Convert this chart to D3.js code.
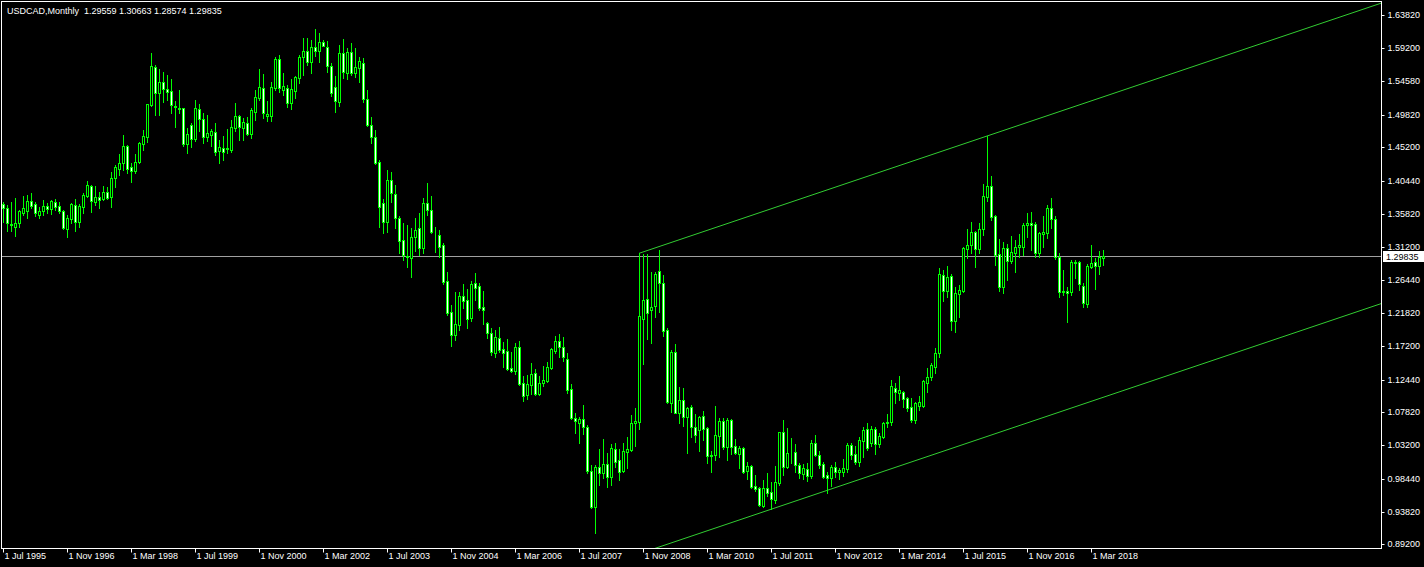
<!DOCTYPE html>
<html>
<head>
<meta charset="utf-8">
<script src="https://cdn.jsdelivr.net/npm/d3@7"></script>
<style>
  html, body { margin: 0; padding: 0; background: #000; }
  svg { display: block; }
  text { font-family: "Liberation Sans", Arial, sans-serif; }
</style>
</head>
<body>
<svg id="chart"></svg>
<script>
// USDCAD monthly bars, first bar = Jul 1995
const symbolTitle = "USDCAD,Monthly";
const lastBar = ["1.29559", "1.30663", "1.28574", "1.29835"];

const opens = [
1.3722,1.3661,1.3439,1.3393,1.3449,1.3599,1.3627,1.3760,1.3717,1.3571,
1.3619,1.3693,1.3647,1.3746,1.3693,1.3619,1.3373,1.3514,1.3703,1.3472,
1.3684,1.3839,1.3980,1.3754,1.3820,1.3792,1.3887,1.3816,1.4084,1.4220,
1.4296,1.4536,1.4244,1.4183,1.4310,1.4569,1.4671,1.5123,1.5651,1.5292,
1.5439,1.5340,1.5312,1.5104,1.5080,1.5072,1.4564,1.4832,1.4634,1.5058,
1.4917,1.4671,1.4699,1.4733,1.4474,1.4512,1.4494,1.4488,1.4798,1.4963,
1.4798,1.4860,1.4709,1.5020,1.5218,1.5355,1.4967,1.4963,1.5355,1.5764,
1.5331,1.5363,1.5142,1.5321,1.5496,1.5792,1.5885,1.5730,1.5933,1.5885,
1.6008,1.5933,1.5674,1.5369,1.5165,1.5848,1.5575,1.5871,1.5575,1.5637,
1.5707,1.5199,1.4832,1.4671,1.4310,1.3731,1.3472,1.4060,1.3863,1.3520,
1.3214,1.2992,1.2955,1.3251,1.3379,1.3097,1.3731,1.3637,1.3331,1.3284,
1.3143,1.2636,1.2199,1.1878,1.2019,1.2424,1.2368,1.2114,1.2604,1.2566,
1.2269,1.2039,1.1898,1.1624,1.1828,1.1672,1.1644,1.1408,1.1370,1.1700,
1.1192,1.1027,1.1168,1.1333,1.1041,1.1192,1.1229,1.1408,1.1652,1.1789,
1.1709,1.1531,1.1108,1.0699,1.0637,1.0685,1.0572,0.9959,0.9451,1.0007,
0.9931,1.0049,0.9866,1.0261,1.0110,0.9959,1.0227,1.0251,1.0628,1.0646,
1.2104,1.2378,1.2227,1.2283,1.2773,1.2603,1.1945,1.0919,1.1634,1.0778,
1.0957,1.0713,1.0854,1.0580,1.0533,1.0731,1.0557,1.0180,1.0180,1.0449,
1.0665,1.0298,1.0675,1.0307,1.0195,1.0275,0.9959,1.0025,0.9743,0.9711,
0.9461,0.9711,0.9659,0.9546,0.9790,1.0505,1.0015,1.0204,1.0218,1.0039,
0.9912,0.9979,0.9889,1.0345,1.0180,1.0053,0.9899,0.9852,1.0007,0.9945,
0.9945,0.9979,1.0322,1.0195,1.0086,1.0382,1.0543,1.0345,1.0543,1.0336,
1.0439,1.0637,1.0646,1.1122,1.1060,1.1065,1.0981,1.0854,1.0675,1.0876,
1.0876,1.1201,1.1285,1.1427,1.1616,1.2721,1.2499,1.2707,1.2076,1.2448,
1.2499,1.3091,1.3143,1.3331,1.3083,1.3365,1.3816,1.3976,1.3552,1.3016,
1.2556,1.3097,1.2922,1.3035,1.3111,1.3119,1.3425,1.3449,1.3439,1.3035,
1.3298,1.3308,1.3661,1.3506,1.2970,1.2485,1.2495,1.2485,1.2904,1.2904,
1.2566,1.2312,1.2837,1.2899,1.2851,1.29559];

const highs = [
1.3754,1.3707,1.3746,1.3802,1.3637,1.3835,1.3849,1.3873,1.3746,1.3684,
1.3778,1.3731,1.3778,1.3788,1.3754,1.3637,1.3566,1.3740,1.3788,1.3717,
1.3873,1.4050,1.3994,1.3976,1.3891,1.3976,1.3957,1.4177,1.4272,1.4427,
1.4696,1.4550,1.4301,1.4428,1.4601,1.4766,1.5133,1.5848,1.5683,1.5623,
1.5580,1.5542,1.5486,1.5175,1.5331,1.5080,1.4790,1.4860,1.5189,1.5133,
1.5001,1.4977,1.4776,1.4860,1.4625,1.4681,1.4776,1.4907,1.5142,1.4977,
1.4931,1.4945,1.5072,1.5331,1.5623,1.5556,1.5175,1.5443,1.5800,1.5824,
1.5566,1.5401,1.5482,1.5528,1.5824,1.6060,1.6060,1.6036,1.6187,1.6131,
1.6036,1.6026,1.5716,1.5528,1.5966,1.6046,1.5919,1.5990,1.5919,1.5792,
1.5778,1.5331,1.4945,1.4766,1.4343,1.3788,1.4202,1.4169,1.3990,1.3552,
1.3449,1.3425,1.3379,1.3520,1.3599,1.3810,1.4022,1.3834,1.3401,1.3355,
1.3176,1.2763,1.2297,1.2485,1.2485,1.2594,1.2519,1.2640,1.2753,1.2612,
1.2499,1.2062,1.1969,1.1945,1.1991,1.1780,1.1813,1.1638,1.1765,1.1793,
1.1295,1.1309,1.1474,1.1389,1.1295,1.1436,1.1497,1.1686,1.1860,1.1888,
1.1841,1.1615,1.1182,1.0769,1.0722,1.0886,1.0604,1.0039,1.0039,1.0261,
1.0402,1.0213,1.0336,1.0345,1.0261,1.0345,1.0439,1.0745,1.0840,1.3026,
1.3016,1.3016,1.2763,1.2763,1.3073,1.2721,1.1969,1.1662,1.1747,1.1136,
1.1122,1.0862,1.0886,1.0759,1.0731,1.0806,1.0580,1.0241,1.0872,1.0699,
1.0699,1.0699,1.0685,1.0402,1.0307,1.0298,1.0086,1.0039,0.9903,0.9734,
0.9833,0.9932,0.9800,1.0025,1.0509,1.0675,1.0557,1.0420,1.0336,1.0072,
1.0053,1.0072,1.0392,1.0462,1.0241,1.0086,0.9945,1.0039,1.0086,0.9993,
1.0120,1.0345,1.0354,1.0307,1.0430,1.0580,1.0637,1.0590,1.0580,1.0495,
1.0651,1.0759,1.1239,1.1201,1.1295,1.1088,1.1004,1.0981,1.0933,1.1013,
1.1239,1.1404,1.1483,1.1686,1.2815,1.2791,1.2847,1.2735,1.2556,1.2580,
1.3119,1.3365,1.3468,1.3345,1.3449,1.4004,1.4681,1.4117,1.3566,1.3223,
1.3190,1.3157,1.3270,1.3214,1.3299,1.3449,1.3599,1.3613,1.3472,1.3331,
1.3552,1.3707,1.3802,1.3552,1.3026,1.2791,1.2556,1.2932,1.2932,1.2922,
1.2612,1.2876,1.3143,1.2956,1.3063,1.30663];

const lows = [
1.3472,1.3345,1.3345,1.3274,1.3401,1.3566,1.3520,1.3661,1.3556,1.3528,
1.3571,1.3590,1.3576,1.3637,1.3590,1.3369,1.3260,1.3458,1.3345,1.3401,
1.3590,1.3825,1.3613,1.3707,1.3661,1.3778,1.3788,1.3684,1.3966,1.4131,
1.4202,1.4164,1.4037,1.4155,1.4296,1.4484,1.4601,1.5109,1.4977,1.4977,
1.5161,1.5189,1.5010,1.4812,1.5010,1.4540,1.4446,1.4530,1.4615,1.4756,
1.4587,1.4615,1.4540,1.4413,1.4305,1.4343,1.4437,1.4460,1.4756,1.4625,
1.4625,1.4695,1.4649,1.4907,1.5189,1.4931,1.4893,1.4893,1.5331,1.5307,
1.5260,1.5086,1.5062,1.5213,1.5434,1.5542,1.5683,1.5575,1.5810,1.5730,
1.5951,1.5589,1.5246,1.5024,1.5104,1.5496,1.5482,1.5542,1.5510,1.5448,
1.5165,1.4822,1.4587,1.4286,1.3401,1.3308,1.3330,1.3754,1.3379,1.3026,
1.2932,1.2837,1.2687,1.3063,1.3002,1.3035,1.3566,1.3317,1.3049,1.2970,
1.2594,1.2156,1.1719,1.1804,1.1945,1.2251,1.1977,1.2076,1.2368,1.2227,
1.2029,1.1828,1.1592,1.1568,1.1638,1.1418,1.1380,1.1351,1.1323,1.1168,
1.0947,1.0975,1.1041,1.1030,1.1027,1.1154,1.1215,1.1390,1.1615,1.1568,
1.1511,1.1060,1.0685,1.0487,1.0346,1.0477,0.9931,0.9429,0.9080,0.9758,
0.9852,0.9725,0.9758,1.0015,0.9828,0.9945,1.0001,1.0241,1.0307,1.0547,
1.1464,1.1813,1.1765,1.2124,1.2203,1.1860,1.0910,1.0792,1.0769,1.0637,
1.0590,1.0213,1.0434,1.0364,1.0241,1.0392,1.0072,0.9945,1.0110,1.0156,
1.0261,1.0110,1.0195,1.0195,1.0001,0.9931,0.9838,0.9711,0.9677,0.9461,
0.9451,0.9602,0.9415,0.9508,0.9758,0.9899,1.0001,1.0063,0.9945,0.9852,
0.9838,0.9818,0.9852,1.0166,0.9993,0.9852,0.9649,0.9743,0.9875,0.9838,
0.9885,0.9945,1.0120,1.0053,1.0025,1.0148,1.0251,1.0307,1.0195,1.0298,
1.0415,1.0572,1.0604,1.0919,1.0957,1.0862,1.0806,1.0651,1.0637,1.0816,
1.0854,1.1074,1.1239,1.1333,1.1563,1.2358,1.2415,1.1945,1.1921,1.2132,
1.2485,1.2956,1.3026,1.2837,1.3035,1.3284,1.3768,1.3496,1.2861,1.2499,
1.2471,1.2650,1.2894,1.2767,1.2970,1.3002,1.3261,1.3073,1.2978,1.2978,
1.3111,1.3238,1.3379,1.2942,1.2415,1.2438,1.2062,1.2438,1.2673,1.2509,
1.2265,1.2265,1.2815,1.2518,1.2734,1.28574];

const closes = [
1.3669,1.3449,1.3421,1.3454,1.3619,1.3661,1.3760,1.3698,1.3599,1.3619,
1.3689,1.3647,1.3764,1.3684,1.3627,1.3387,1.3520,1.3722,1.3472,1.3693,
1.3849,1.3985,1.3768,1.3816,1.3782,1.3887,1.3810,1.4084,1.4244,1.4296,
1.4540,1.4212,1.4192,1.4310,1.4583,1.4677,1.5128,1.5669,1.5292,1.5439,
1.5340,1.5307,1.5114,1.5090,1.5066,1.4572,1.4713,1.4634,1.5072,1.4917,
1.4671,1.4719,1.4752,1.4460,1.4522,1.4460,1.4512,1.4808,1.4959,1.4812,
1.4874,1.4709,1.5048,1.5228,1.5369,1.5001,1.4991,1.5369,1.5764,1.5355,
1.5387,1.5151,1.5345,1.5510,1.5792,1.5881,1.5730,1.5933,1.5885,1.6004,
1.5956,1.5674,1.5284,1.5179,1.5848,1.5589,1.5871,1.5575,1.5651,1.5744,
1.5199,1.4832,1.4671,1.4305,1.3675,1.3463,1.4060,1.3873,1.3520,1.3204,
1.3002,1.2970,1.3251,1.3355,1.3097,1.3731,1.3637,1.3331,1.3322,1.3119,
1.2626,1.2189,1.1878,1.2029,1.2424,1.2358,1.2104,1.2594,1.2542,1.2255,
1.2227,1.1898,1.1634,1.1842,1.1662,1.1624,1.1390,1.1370,1.1700,1.1182,
1.1017,1.1182,1.1323,1.1041,1.1192,1.1239,1.1418,1.1672,1.1789,1.1700,
1.1559,1.1098,1.0699,1.0665,1.0685,1.0572,0.9959,0.9443,1.0015,0.9922,
1.0049,0.9866,1.0275,1.0086,0.9945,1.0237,1.0265,1.0628,1.0656,1.2142,
1.2368,1.2180,1.2265,1.2735,1.2612,1.1935,1.0933,1.1634,1.0778,1.0957,
1.0713,1.0840,1.0580,1.0467,1.0713,1.0543,1.0166,1.0166,1.0462,1.0665,
1.0298,1.0675,1.0298,1.0213,1.0275,0.9945,1.0025,0.9734,0.9705,0.9475,
0.9711,0.9640,0.9560,0.9800,1.0505,1.0015,1.0204,1.0213,1.0039,0.9922,
0.9993,0.9889,1.0345,1.0180,1.0039,0.9874,0.9852,1.0007,0.9945,0.9969,
0.9993,1.0322,1.0180,1.0086,1.0392,1.0533,1.0283,1.0543,1.0336,1.0449,
1.0637,1.0642,1.1154,1.1074,1.1098,1.0971,1.0844,1.0675,1.0910,1.0924,
1.1225,1.1285,1.1450,1.1616,1.2734,1.2499,1.2697,1.2076,1.2462,1.2509,
1.3105,1.3143,1.3323,1.3083,1.3365,1.3834,1.3976,1.3542,1.3002,1.2556,
1.3097,1.2922,1.3049,1.3111,1.3143,1.3425,1.3447,1.3425,1.3035,1.3308,
1.3322,1.3661,1.3506,1.2970,1.2485,1.2495,1.2471,1.2904,1.2894,1.2594,
1.2321,1.2847,1.2894,1.2851,1.2978,1.29835];

// bottom time labels, one every 16 bars starting at bar 0
const timeLabels = ["1 Jul 1995","1 Nov 1996","1 Mar 1998","1 Jul 1999","1 Nov 2000",
  "1 Mar 2002","1 Jul 2003","1 Nov 2004","1 Mar 2006","1 Jul 2007","1 Nov 2008",
  "1 Mar 2010","1 Jul 2011","1 Nov 2012","1 Mar 2014","1 Jul 2015","1 Nov 2016","1 Mar 2018"];

const priceTicks = [1.63820,1.59200,1.54580,1.49820,1.45200,1.40440,1.35820,1.31200,
  1.26440,1.21820,1.17200,1.12440,1.07820,1.03200,0.98440,0.93820,0.89200];

// equidistant channel: two points on the upper line, one on the lower
const channelBars = [159, 246, 192];
const channelPrices = [1.3026, 1.4681, 0.9415];

const width = 1424, height = 567;
const plotRight = 1381, plotBottom = 548;

const svg = d3.select("#chart")
    .attr("width", width)
    .attr("height", height)
    .style("background", "#000");

const data = closes.map(function(c, i) {
    return {i: i, o: opens[i], h: highs[i], l: lows[i], c: c};
});

const x = d3.scaleLinear().domain([0, 1]).range([3, 7]);
const y = d3.scaleLinear().domain([0.88688, 1.66]).range([plotBottom, 0]);

svg.append("clipPath").attr("id", "plot")
  .append("rect")
    .attr("x", 2).attr("y", 2)
    .attr("width", plotRight - 2).attr("height", plotBottom - 2);

const plot = svg.append("g").attr("clip-path", "url(#plot)");

// current price line
const lastClose = closes[closes.length - 1];
plot.append("line")
    .attr("x1", 2).attr("x2", plotRight)
    .attr("y1", Math.round(y(lastClose)) + 0.5)
    .attr("y2", Math.round(y(lastClose)) + 0.5)
    .attr("stroke", "#a0a0a0");

// channel lines
const slope = (channelPrices[1] - channelPrices[0]) / (channelBars[1] - channelBars[0]);
const endBar = x.invert(plotRight + 2);
const offset = channelPrices[2] - (channelPrices[0] + slope * (channelBars[2] - channelBars[0]));
[0, offset].forEach(function(off) {
    plot.append("line")
        .attr("x1", x(channelBars[0]))
        .attr("y1", y(channelPrices[0] + off))
        .attr("x2", x(endBar))
        .attr("y2", y(channelPrices[0] + off + slope * (endBar - channelBars[0])))
        .attr("stroke", "#32cd32")
        .attr("stroke-width", 1);
});

// candles
const candle = plot.selectAll("g.candle")
  .data(data)
  .enter()
  .append("g")
    .attr("class", "candle");

candle.append("line")
    .attr("x1", function(d) { return x(d.i) + 0.5; })
    .attr("x2", function(d) { return x(d.i) + 0.5; })
    .attr("y1", function(d) { return Math.round(y(d.h)); })
    .attr("y2", function(d) { return Math.round(y(d.l)) + 1; })
    .attr("stroke", "#00ff00");

candle.append("rect")
    .attr("x", function(d) { return x(d.i) - 0.5; })
    .attr("y", function(d) { return Math.round(y(Math.max(d.o, d.c))) + 0.5; })
    .attr("width", 2)
    .attr("height", function(d) {
        return Math.round(y(Math.min(d.o, d.c))) - Math.round(y(Math.max(d.o, d.c)));
    })
    .attr("fill", function(d) { return d.c < d.o ? "#ffffff" : "#000000"; })
    .attr("stroke", "#00ff00");

// frame
svg.append("rect")
    .attr("x", 1.5).attr("y", 1.5)
    .attr("width", plotRight - 1).attr("height", plotBottom - 1)
    .attr("fill", "none")
    .attr("stroke", "#ffffff");

// price axis
const yAxis = svg.append("g")
    .attr("transform", "translate(" + (plotRight + 0.5) + ",0)")
    .call(d3.axisRight(y).tickValues(priceTicks).tickFormat(d3.format(".5f")).tickSize(3).tickPadding(3));
yAxis.select(".domain").remove();
yAxis.selectAll(".tick").attr("transform", function(d) {
    return "translate(0," + (Math.round(y(d)) + 0.5) + ")";
});
yAxis.selectAll("line").attr("stroke", "#ffffff");
yAxis.selectAll("text").attr("fill", "#ffffff").style("font-size", "9px")
    .style("font-family", "'Liberation Sans', Arial, sans-serif");

// time axis
const xAxis = svg.append("g")
    .attr("transform", "translate(0," + (plotBottom + 0.5) + ")")
    .call(d3.axisBottom(x)
        .tickValues(timeLabels.map(function(t, i) { return i * 16; }))
        .tickFormat(function(d, i) { return timeLabels[i]; })
        .tickSize(4));
xAxis.select(".domain").remove();
xAxis.selectAll(".tick").attr("transform", function(d) {
    return "translate(" + (x(d) + 0.5) + ",0)";
});
xAxis.selectAll("line").attr("stroke", "#ffffff");
xAxis.selectAll("text")
    .attr("fill", "#ffffff")
    .attr("text-anchor", "start")
    .attr("x", 1).attr("y", 10.5).attr("dy", null)
    .style("font-size", "9px")
    .style("font-family", "'Liberation Sans', Arial, sans-serif");

// current price label
const py = Math.round(y(lastClose));
svg.append("rect")
    .attr("x", plotRight + 2).attr("y", py - 5)
    .attr("width", width - plotRight - 2).attr("height", 11)
    .attr("fill", "#ffffff");
svg.append("text")
    .attr("x", plotRight + 5).attr("y", py + 4)
    .attr("fill", "#000000")
    .style("font-size", "9px")
    .text(d3.format(".5f")(lastClose));

// title
svg.append("text")
    .attr("x", 7).attr("y", 14)
    .attr("fill", "#ffffff")
    .style("font-size", "9px")
    .attr("xml:space", "preserve")
    .text(symbolTitle + "  " + lastBar.join(" "));
</script>
</body>
</html>
